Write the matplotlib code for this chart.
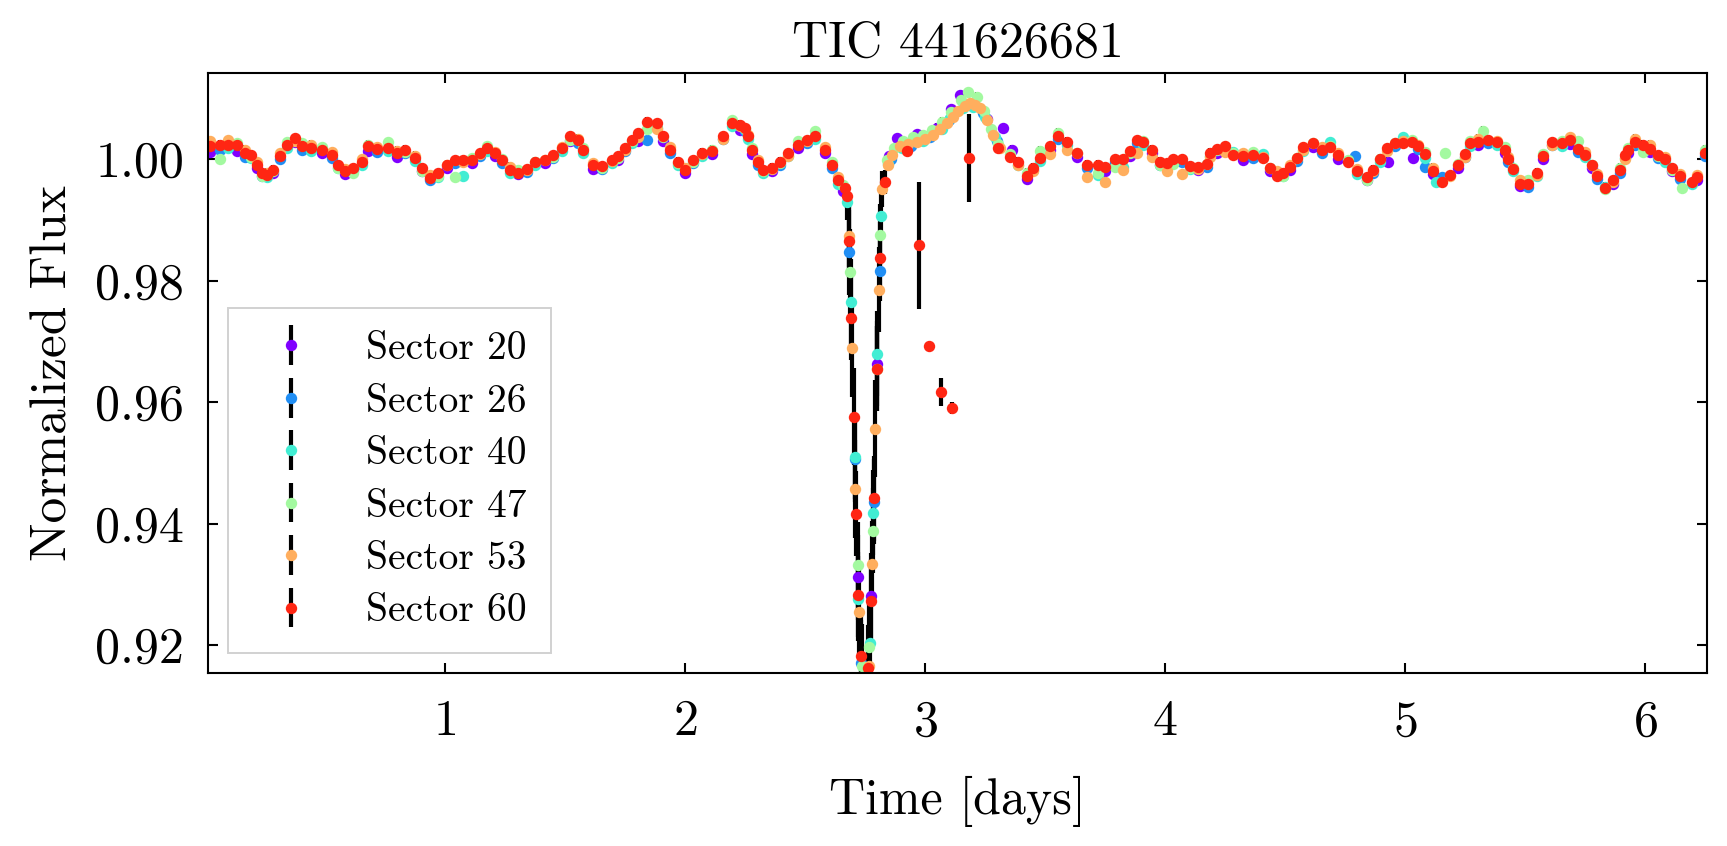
import numpy as np
import matplotlib
matplotlib.use('Agg')
import matplotlib.pyplot as plt

"""
Phase folded, binned TESS light curve of TIC 441626681, one colour per sector.
"""

# ---- data ----

sector_names = ['20', '26', '40', '47', '53', '60']

# sector 20
t20 = [0.021, 0.132, 0.215, 0.285, 0.375, 0.486, 0.583, 0.681, 0.799, 0.903,
       1.007, 1.111, 1.208, 1.306, 1.417, 1.521, 1.618, 1.722, 1.806, 1.910,
       2.000, 2.111, 2.229, 2.278, 2.361, 2.472, 2.583, 2.660,
       2.850, 2.882, 2.965, 3.050, 3.110, 3.146, 3.200, 3.260, 3.326, 3.361,
       3.424, 3.521, 3.632, 3.750, 3.854, 3.944, 4.035, 4.139, 4.215, 4.326,
       4.438, 4.521, 4.618, 4.722, 4.840, 4.930, 5.035, 5.118, 5.222, 5.306,
       5.417, 5.479, 5.576, 5.688, 5.778, 5.868, 5.931, 6.021, 6.111, 6.215]
f20 = [1.0012, 1.0014, 0.9986, 0.9978, 1.0028, 1.0010, 0.9975, 1.0014, 1.0004, 0.9980,
       0.9986, 0.9993, 1.0006, 0.9975, 0.9994, 1.0030, 0.9984, 0.9998, 1.0030, 1.0030,
       0.9978, 1.0008, 1.0048, 1.0008, 0.9980, 1.0018, 1.0010, 0.9948,
       1.0005, 1.0035, 1.0041, 1.0052, 1.0082, 1.0106, 1.0092, 1.0066, 1.0051, 1.0016,
       0.9968, 1.0015, 1.0004, 0.9980, 1.0006, 1.0010, 0.9994, 0.9982, 1.0010, 0.9999,
       0.9980, 0.9982, 1.0020, 1.0001, 0.9966, 0.9996, 1.0002, 0.9976, 0.9985, 1.0024,
       1.0010, 0.9956, 1.0000, 1.0025, 0.9986, 0.9960, 1.0010, 1.0012, 0.9980, 0.9965]
t20_dip = [2.722, 2.775, 2.801]
f20_dip = [0.9312, 0.9281, 0.9663]
e20_dip = [0.007, 0.007, 0.007]

# sector 26
t26 = [0.063, 0.167, 0.236, 0.313, 0.403, 0.528, 0.618, 0.715, 0.833, 0.938,
       1.042, 1.146, 1.236, 1.340, 1.451, 1.556, 1.653, 1.750, 1.840, 1.938,
       2.035, 2.160, 2.250, 2.306, 2.396, 2.507, 2.611,
       2.860, 2.940, 3.020, 3.100, 3.170, 3.240, 3.300,
       3.451, 3.556, 3.674, 3.792, 3.882, 3.979, 4.069, 4.174, 4.250, 4.368,
       4.465, 4.549, 4.653, 4.792, 4.868, 4.958, 5.056, 5.083, 5.153, 5.250,
       5.347, 5.431, 5.514, 5.611, 5.722, 5.799, 5.896, 5.958, 6.056, 6.146,
       6.250]
f26 = [1.0016, 1.0004, 0.9972, 1.0000, 1.0016, 1.0002, 0.9980, 1.0012, 1.0010, 0.9965,
       0.9994, 1.0005, 0.9994, 0.9979, 1.0002, 1.0027, 0.9984, 1.0013, 1.0032, 1.0011,
       0.9994, 1.0033, 1.0046, 0.9991, 0.9991, 1.0027, 0.9986,
       1.0000, 1.0022, 1.0036, 1.0064, 1.0090, 1.0076, 1.0030,
       0.9982, 1.0034, 0.9986, 0.9995, 1.0027, 0.9991, 0.9995, 0.9988, 1.0016, 1.0002,
       0.9975, 0.9997, 1.0011, 1.0005, 0.9978, 1.0021, 1.0017, 0.9988, 0.9970, 1.0003,
       1.0027, 0.9995, 0.9955, 1.0023, 1.0012, 0.9968, 0.9978, 1.0023, 1.0002, 0.9968,
       1.0005]
t26_dip = [2.685, 2.710, 2.732, 2.788, 2.814]
f26_dip = [0.9847, 0.9506, 0.9171, 0.9436, 0.9816]
e26_dip = [0.007, 0.007, 0.007, 0.007, 0.005]

# sector 40
t40 = [0.097, 0.194, 0.257, 0.340, 0.444, 0.556, 0.653, 0.764, 0.875, 0.972,
       1.076, 1.174, 1.271, 1.375, 1.486, 1.576, 1.694, 1.778, 1.882, 1.972,
       2.069, 2.194, 2.264, 2.326, 2.431, 2.542, 2.639,
       2.845, 2.905, 2.990, 3.070, 3.104, 3.160, 3.200, 3.250, 3.290,
       3.389, 3.479, 3.590, 3.722, 3.826, 3.910, 4.007, 4.104, 4.188, 4.285,
       4.410, 4.493, 4.576, 4.688, 4.799, 4.896, 4.993, 5.083, 5.130, 5.271,
       5.382, 5.451, 5.549, 5.653, 5.750, 5.833, 5.917, 5.993, 6.083, 6.194]
f40 = [1.0018, 1.0002, 0.9970, 1.0019, 1.0013, 0.9986, 0.9990, 1.0013, 0.9997, 0.9970,
       0.9972, 1.0013, 0.9978, 0.9991, 1.0013, 1.0011, 0.9994, 1.0027, 1.0052, 0.9991,
       1.0006, 1.0055, 1.0033, 0.9978, 1.0005, 1.0033, 0.9960,
       0.9992, 1.0018, 1.0030, 1.0050, 1.0068, 1.0084, 1.0086, 1.0070, 1.0036,
       0.9990, 0.9997, 1.0024, 0.9974, 0.9988, 1.0024, 0.9988, 0.9984, 1.0006, 1.0012,
       1.0008, 0.9972, 1.0014, 1.0028, 0.9976, 0.9996, 1.0036, 1.0002, 0.9962, 1.0022,
       1.0024, 0.9980, 0.9972, 1.0022, 1.0003, 0.9955, 1.0002, 1.0020, 0.9996, 0.9960]
t40_dip = [2.676, 2.692, 2.710, 2.722, 2.771, 2.785, 2.801, 2.817]
f40_dip = [0.9930, 0.9765, 0.9510, 0.9276, 0.9204, 0.9418, 0.9680, 0.9907]
e40_dip = [0.003, 0.007, 0.007, 0.007, 0.007, 0.007, 0.007, 0.004]

# sector 47
t47 = [0.063, 0.132, 0.194, 0.236, 0.285, 0.340, 0.403, 0.486, 0.556, 0.618,
       0.681, 0.764, 0.833, 0.903, 0.972, 1.042, 1.111, 1.174, 1.236, 1.306,
       1.375, 1.451, 1.521, 1.576, 1.653, 1.722, 1.778, 1.840, 1.910, 1.972,
       2.035, 2.111, 2.194, 2.250, 2.278, 2.326, 2.396, 2.472, 2.542, 2.611,
       2.660,
       2.840, 2.870, 2.910, 2.950, 2.990, 3.030, 3.070, 3.110, 3.150, 3.181,
       3.215, 3.245, 3.275, 3.305,
       3.354, 3.424, 3.479, 3.556, 3.632, 3.722, 3.792, 3.854, 3.910, 3.979,
       4.035, 4.104, 4.174, 4.215, 4.285, 4.368, 4.438, 4.493, 4.549, 4.618,
       4.688, 4.764, 4.840, 4.896, 4.958, 5.028, 5.083, 5.167, 5.222, 5.271,
       5.326, 5.417, 5.451, 5.514, 5.576, 5.653, 5.722, 5.778, 5.833, 5.896,
       5.931, 5.993, 6.056, 6.111, 6.153, 6.250]
f47 = [1.0000, 1.0026, 1.0004, 0.9972, 0.9980, 1.0028, 1.0026, 1.0020, 0.9986, 0.9978,
       1.0024, 1.0028, 1.0012, 0.9980, 0.9972, 0.9970, 1.0002, 1.0022, 1.0000, 0.9982,
       0.9995, 1.0004, 1.0032, 1.0018, 0.9986, 1.0002, 1.0030, 1.0050, 1.0036, 0.9994,
       0.9996, 1.0016, 1.0064, 1.0050, 1.0018, 0.9980, 0.9994, 1.0030, 1.0046, 0.9995,
       0.9958,
       0.9998, 1.0018, 1.0030, 1.0036, 1.0040, 1.0048, 1.0062, 1.0078, 1.0098, 1.0111,
       1.0103, 1.0080, 1.0050, 1.0025,
       1.0008, 0.9978, 1.0014, 1.0044, 1.0010, 0.9978, 0.9988, 1.0010, 1.0030, 0.9990,
       0.9992, 0.9985, 0.9992, 1.0016, 1.0010, 1.0012, 0.9986, 0.9972, 1.0002, 1.0026,
       1.0022, 0.9998, 0.9966, 1.0000, 1.0026, 1.0032, 1.0012, 1.0010, 0.9992, 1.0030,
       1.0047, 1.0020, 0.9986, 0.9966, 1.0008, 1.0030, 1.0030, 0.9990, 0.9951, 0.9986,
       1.0018, 1.0012, 1.0006, 0.9982, 0.9952, 1.0016]
t47_dip = [2.688, 2.722, 2.736, 2.768, 2.785, 2.801, 2.812]
f47_dip = [0.9815, 0.9332, 0.9165, 0.9197, 0.9388, 0.9655, 0.9876]
e47_dip = [0.007, 0.007, 0.007, 0.007, 0.007, 0.007, 0.005]

# sector 53
t53 = [0.021, 0.097, 0.167, 0.215, 0.257, 0.313, 0.375, 0.444, 0.528, 0.583,
       0.653, 0.715, 0.799, 0.875, 0.938, 1.007, 1.076, 1.146, 1.208, 1.271,
       1.340, 1.417, 1.486, 1.556, 1.618, 1.694, 1.750, 1.806, 1.882, 1.938,
       2.000, 2.069, 2.160, 2.229, 2.264, 2.306, 2.361, 2.431, 2.507, 2.583,
       2.639,
       2.845, 2.861, 2.896, 2.930, 2.965, 3.000, 3.035, 3.063, 3.090, 3.115,
       3.139, 3.165, 3.188, 3.210, 3.229, 3.257, 3.285, 3.313,
       3.389, 3.451, 3.521, 3.590, 3.674, 3.750, 3.826, 3.882, 3.944, 4.007,
       4.069, 4.139, 4.188, 4.250, 4.326, 4.410, 4.465, 4.521, 4.576, 4.653,
       4.722, 4.799, 4.868, 4.924, 4.993, 5.056, 5.118, 5.188, 5.250, 5.306,
       5.382, 5.431, 5.479, 5.549, 5.611, 5.688, 5.750, 5.799, 5.868, 5.917,
       5.958, 6.021, 6.083, 6.146, 6.215]
f53 = [1.0030, 1.0032, 1.0016, 0.9995, 0.9978, 1.0010, 1.0030, 1.0024, 1.0012, 0.9984,
       1.0000, 1.0020, 1.0014, 1.0006, 0.9974, 0.9990, 0.9996, 1.0008, 1.0012, 0.9988,
       0.9982, 0.9998, 1.0020, 1.0034, 0.9993, 0.9997, 1.0016, 1.0036, 1.0050, 1.0020,
       0.9986, 1.0008, 1.0034, 1.0054, 1.0040, 0.9998, 0.9984, 1.0006, 1.0030, 1.0020,
       0.9970,
       0.9990, 1.0007, 1.0021, 1.0025, 1.0029, 1.0034, 1.0040, 1.0050, 1.0060, 1.0070,
       1.0079, 1.0088, 1.0093, 1.0090, 1.0084, 1.0065, 1.0040, 1.0018,
       0.9990, 0.9980, 1.0008, 1.0016, 0.9970, 0.9962, 0.9982, 1.0010, 1.0004, 0.9980,
       0.9976, 0.9984, 1.0004, 1.0012, 1.0010, 1.0004, 0.9980, 0.9990, 1.0016, 1.0020,
       1.0010, 0.9984, 0.9980, 1.0014, 1.0030, 1.0024, 0.9986, 0.9972, 1.0004, 1.0034,
       1.0030, 1.0004, 0.9966, 0.9974, 1.0024, 1.0036, 1.0012, 0.9976, 0.9962, 1.0000,
       1.0034, 1.0024, 1.0004, 0.9976, 0.9974]
t53_dip = [2.685, 2.697, 2.710, 2.726, 2.768, 2.781, 2.792, 2.810, 2.821]
f53_dip = [0.9873, 0.9689, 0.9457, 0.9255, 0.9165, 0.9334, 0.9556, 0.9785, 0.9951]
e53_dip = [0.005, 0.008, 0.008, 0.007, 0.007, 0.007, 0.008, 0.007, 0.003]

# sector 60
t60 = [0.021, 0.063, 0.097, 0.132, 0.167, 0.194, 0.215, 0.236, 0.257, 0.285,
       0.313, 0.340, 0.375, 0.403, 0.444, 0.486, 0.528, 0.556, 0.583, 0.618,
       0.653, 0.681, 0.715, 0.764, 0.799, 0.833, 0.875, 0.903, 0.938, 0.972,
       1.007, 1.042, 1.076, 1.111, 1.146, 1.174, 1.208, 1.236, 1.271, 1.306,
       1.340, 1.375, 1.417, 1.451, 1.486, 1.521, 1.556, 1.576, 1.618, 1.653,
       1.694, 1.722, 1.750, 1.778, 1.806, 1.840, 1.882, 1.910, 1.938, 1.972,
       2.000, 2.035, 2.069, 2.111, 2.160, 2.194, 2.229, 2.250, 2.264, 2.278,
       2.306, 2.326, 2.361, 2.396, 2.431, 2.472, 2.507, 2.542, 2.583, 2.611,
       2.639, 2.667, 2.924,
       3.306, 3.354, 3.389, 3.424, 3.451, 3.479, 3.521, 3.556, 3.590, 3.632,
       3.674, 3.722, 3.750, 3.792, 3.826, 3.854, 3.882, 3.910, 3.944, 3.979,
       4.007, 4.035, 4.069, 4.104, 4.139, 4.174, 4.188, 4.215, 4.250, 4.285,
       4.326, 4.368, 4.410, 4.438, 4.465, 4.493, 4.521, 4.549, 4.576, 4.618,
       4.653, 4.688, 4.722, 4.764, 4.799, 4.840, 4.868, 4.896, 4.924, 4.958,
       4.993, 5.028, 5.056, 5.083, 5.118, 5.153, 5.188, 5.222, 5.250, 5.271,
       5.306, 5.347, 5.382, 5.417, 5.431, 5.451, 5.479, 5.514, 5.549, 5.576,
       5.611, 5.653, 5.688, 5.722, 5.750, 5.778, 5.799, 5.833, 5.868, 5.896,
       5.917, 5.931, 5.958, 5.993, 6.021, 6.056, 6.083, 6.111, 6.146, 6.194,
       6.215, 6.250]
f60 = [1.0021, 1.0024, 1.0024, 1.0024, 1.0010, 1.0007, 0.9991, 0.9977, 0.9974, 0.9983,
       1.0005, 1.0024, 1.0035, 1.0021, 1.0018, 1.0016, 1.0007, 0.9991, 0.9980, 0.9985,
       0.9996, 1.0021, 1.0017, 1.0018, 1.0010, 1.0016, 1.0002, 0.9985, 0.9969, 0.9977,
       0.9991, 0.9999, 0.9999, 0.9999, 1.0010, 1.0018, 1.0010, 0.9999, 0.9983, 0.9978,
       0.9984, 0.9996, 0.9999, 1.0007, 1.0018, 1.0038, 1.0032, 1.0016, 0.9991, 0.9989,
       0.9999, 1.0005, 1.0018, 1.0032, 1.0043, 1.0062, 1.0060, 1.0038, 1.0016, 0.9996,
       0.9983, 0.9999, 1.0011, 1.0013, 1.0038, 1.0060, 1.0057, 1.0051, 1.0038, 1.0016,
       0.9996, 0.9983, 0.9986, 0.9996, 1.0010, 1.0024, 1.0032, 1.0038, 1.0016, 0.9991,
       0.9966, 0.9953, 1.0013,
       1.0018, 1.0003, 0.9996, 0.9972, 0.9986, 1.0002, 1.0021, 1.0039, 1.0029, 1.0010,
       0.9991, 0.9991, 0.9987, 1.0000, 1.0000, 1.0013, 1.0032, 1.0029, 1.0016, 0.9996,
       0.9994, 1.0000, 1.0000, 0.9989, 0.9987, 0.9992, 1.0011, 1.0017, 1.0021, 1.0007,
       1.0005, 1.0007, 1.0002, 0.9985, 0.9973, 0.9978, 0.9988, 1.0002, 1.0020, 1.0026,
       1.0016, 1.0020, 1.0007, 0.9996, 0.9980, 0.9971, 0.9983, 1.0001, 1.0018, 1.0026,
       1.0027, 1.0028, 1.0022, 1.0009, 0.9980, 0.9963, 0.9974, 0.9991, 1.0008, 1.0027,
       1.0029, 1.0032, 1.0029, 1.0016, 1.0000, 0.9984, 0.9960, 0.9960, 0.9978, 1.0006,
       1.0028, 1.0027, 1.0031, 1.0017, 1.0007, 0.9991, 0.9973, 0.9953, 0.9966, 0.9983,
       1.0007, 1.0016, 1.0028, 1.0024, 1.0017, 1.0007, 1.0000, 0.9985, 0.9973, 0.9962,
       0.9970, 1.0010]
# eclipse points plus the few odd low points after egress
t60_dip = [2.674, 2.685, 2.693, 2.706, 2.714, 2.722, 2.733, 2.764, 2.775, 2.789,
           2.801, 2.812, 2.833, 2.975, 3.018, 3.067, 3.114, 3.183]
f60_dip = [0.9939, 0.9866, 0.9739, 0.9576, 0.9416, 0.9283, 0.9182, 0.9163, 0.9272, 0.9442,
           0.9655, 0.9837, 0.9962, 0.9858, 0.9693, 0.9617, 0.9590, 1.0002]
e60_dip = [0.002, 0.006, 0.007, 0.008, 0.007, 0.007, 0.007, 0.007, 0.007, 0.007,
           0.007, 0.006, 0.002, 0.0104, 0.0004, 0.0023, 0.0010, 0.0072]

band_err = 0.0007

band_t = [t20, t26, t40, t47, t53, t60]
band_f = [f20, f26, f40, f47, f53, f60]
dip_t = [t20_dip, t26_dip, t40_dip, t47_dip, t53_dip, t60_dip]
dip_f = [f20_dip, f26_dip, f40_dip, f47_dip, f53_dip, f60_dip]
dip_e = [e20_dip, e26_dip, e40_dip, e47_dip, e53_dip, e60_dip]

# ---- style ----
plt.rcParams['font.family'] = 'serif'
plt.rcParams['font.serif'] = ['cmr10']
plt.rcParams['mathtext.fontset'] = 'cm'
plt.rcParams['axes.formatter.use_mathtext'] = True
plt.rcParams['axes.unicode_minus'] = False
plt.rcParams['axes.linewidth'] = 1.5
plt.rcParams['xtick.direction'] = 'in'
plt.rcParams['ytick.direction'] = 'in'
plt.rcParams['xtick.top'] = True
plt.rcParams['ytick.right'] = True
plt.rcParams['xtick.major.size'] = 7
plt.rcParams['ytick.major.size'] = 7
plt.rcParams['xtick.major.width'] = 1.5
plt.rcParams['ytick.major.width'] = 1.5
plt.rcParams['xtick.major.pad'] = 19
plt.rcParams['ytick.major.pad'] = 17

colors = plt.cm.rainbow(np.linspace(0, 0.95, len(sector_names)))

fig = plt.figure(figsize=(17.27, 8.46), dpi=100)
ax = fig.add_axes([0.1204, 0.2045, 0.868, 0.7092])

for i in range(len(sector_names)):
    t = np.concatenate([band_t[i], dip_t[i]])
    f = np.concatenate([band_f[i], dip_f[i]])
    e = np.concatenate([np.full(len(band_t[i]), band_err), dip_e[i]])
    ax.errorbar(t, f, yerr=e, fmt='o', color=colors[i], ecolor='k',
                elinewidth=3.0, capsize=0, ms=8.2, mew=0,
                label='Sector ' + sector_names[i])

ax.set_xlim(0.0125, 6.258)
ax.set_ylim(0.9154, 1.0142)
ax.set_yticks([0.92, 0.94, 0.96, 0.98, 1.00])
ax.set_yticklabels(['0.92', '0.94', '0.96', '0.98', '1.00'])
ax.set_xticks([1, 2, 3, 4, 5, 6])
ax.tick_params(labelsize=36)

ax.set_xlabel('Time [days]', fontsize=36, labelpad=22)
ax.set_ylabel('Normalized Flux', fontsize=37, labelpad=14)
ax.set_title('TIC 441626681', fontsize=36, pad=12)

leg = ax.legend(loc='lower left', fontsize=28.5, fancybox=False,
                edgecolor='0.82', framealpha=1, borderpad=0.6,
                handletextpad=0.9, labelspacing=0.42)
leg.get_frame().set_linewidth(1.4)

plt.savefig('out.png', dpi=100)
